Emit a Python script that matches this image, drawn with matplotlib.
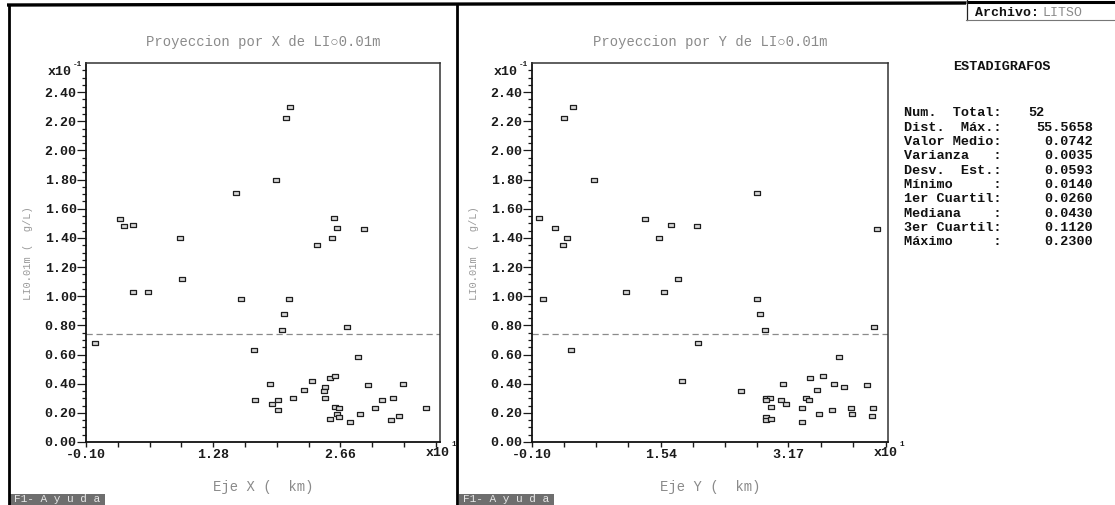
import matplotlib
matplotlib.use("Agg")
import matplotlib.pyplot as plt
import numpy as np
from matplotlib.path import Path
from matplotlib.lines import Line2D
from matplotlib.patches import Rectangle

MONO = ["Liberation Mono", "DejaVu Sans Mono"]

# ---- sample data: position (km) and LI 0.01m concentration (g/L) ----
proj_x_km = [2.69, 3.15, 4.13, 9.20, 9.44, 4.06, 5.72, 0.00,
             21.13, 20.69, 19.57, 15.24, 25.93, 26.19, 29.18, 25.71, 24.05,
             15.81, 21.02, 20.44, 20.22, 27.27, 17.19, 28.54,
             18.96, 23.48, 22.68, 25.50, 26.04, 24.92, 24.85, 29.55, 33.35,
             17.33, 19.79, 19.21, 21.48, 24.95, 19.82, 26.04, 26.47, 26.26,
             26.47, 25.50, 27.67, 28.69, 30.35, 31.14, 32.27, 32.05, 32.95, 35.88]
proj_x_val = [0.153, 0.148, 0.149, 0.140, 0.112, 0.103, 0.103, 0.068,
              0.230, 0.222, 0.180, 0.171, 0.154, 0.147, 0.146, 0.140, 0.135,
              0.098, 0.098, 0.088, 0.077, 0.079, 0.063, 0.058,
              0.040, 0.042, 0.036, 0.044, 0.045, 0.038, 0.035, 0.039, 0.040,
              0.029, 0.029, 0.026, 0.030, 0.030, 0.022, 0.024, 0.023, 0.019,
              0.017, 0.016, 0.014, 0.019, 0.023, 0.029, 0.030, 0.015, 0.018, 0.023]

proj_y_km = [-0.07, 1.93, 3.50, 2.99, 3.08, 4.26, 6.94, 13.39, 15.14, 16.71,
             17.64, 10.94, 15.82, 0.44, 4.01, 18.07, 27.70, 20.00, 42.99, 27.70,
             28.08, 28.77, 42.61, 20.19, 38.15,
             25.71, 34.45, 36.16, 31.01, 37.51, 38.79, 41.71, 35.34, 28.90, 29.32,
             28.90, 30.72, 31.40, 33.99, 34.37, 29.53, 33.48, 37.22, 39.73, 42.48,
             35.65, 39.85, 42.36, 28.85, 28.85, 29.45, 33.48]
proj_y_val = [0.154, 0.147, 0.140, 0.135, 0.222, 0.230, 0.180, 0.153, 0.140, 0.149,
              0.112, 0.103, 0.103, 0.098, 0.063, 0.042, 0.171, 0.148, 0.146, 0.098,
              0.088, 0.077, 0.079, 0.068, 0.058,
              0.035, 0.044, 0.045, 0.040, 0.040, 0.038, 0.039, 0.036, 0.030, 0.030,
              0.029, 0.029, 0.026, 0.030, 0.029, 0.024, 0.023, 0.022, 0.023, 0.023,
              0.019, 0.019, 0.018, 0.017, 0.015, 0.016, 0.014]

# axis multipliers shown as x10^n on the plots
KM_UNIT = 10.0        # x10^1 km
VAL_UNIT = 0.1        # x10^-1 g/L

x_tick_labels_left = ["-0.10", "1.28", "2.66"]
x_tick_labels_right = ["-0.10", "1.54", "3.17"]
y_tick_labels = ["0.00", "0.20", "0.40", "0.60", "0.80", "1.00", "1.20",
                 "1.40", "1.60", "1.80", "2.00", "2.20", "2.40"]

stat_labels = ["Num.  Total:", "Dist.  Máx.:", "Valor Medio:", "Varianza   :",
               "Desv.  Est.:", "Mínimo     :", "1er Cuartil:", "Mediana    :",
               "3er Cuartil:", "Máximo     :"]
stat_values = ["52", "55.5658", "0.0742", "0.0035", "0.0593", "0.0140",
               "0.0260", "0.0430", "0.1120", "0.2300"]
mean_value = float(stat_values[2])

W, H = 1115, 505
fig = plt.figure(figsize=(W / 100, H / 100), dpi=100)
fig.patch.set_facecolor("white")


def fx(px):
    return px / W


def fy(py):
    return 1 - py / H


def fline(x0, y0, x1, y1, **kw):
    fig.add_artist(Line2D([fx(x0), fx(x1)], [fy(y0), fy(y1)],
                          transform=fig.transFigure, **kw))


rect_marker = Path([(-1, -0.55), (1, -0.55), (1, 0.55), (-1, 0.55), (-1, -0.55)],
                   [Path.MOVETO, Path.LINETO, Path.LINETO, Path.LINETO, Path.CLOSEPOLY])


def scatter_panel(left_px, right_px, km, val, xlabels, xmax, title, xname):
    ax = fig.add_axes([fx(left_px), fy(442), fx(right_px) - fx(left_px), fy(63) - fy(442)])
    ax.set_facecolor("white")
    xs = np.asarray(km) / KM_UNIT
    ys = np.asarray(val) / VAL_UNIT
    ax.plot(xs, ys, linestyle="none", marker=rect_marker, markersize=4.4,
            markerfacecolor="#d8d8d8", markeredgecolor="#1e1e1e", markeredgewidth=0.9,
            zorder=3)
    ax.axhline(mean_value / VAL_UNIT, color="#8a8a8a", linewidth=0.9,
               dashes=(5, 3), zorder=2)

    x_major = [float(s) for s in xlabels]
    x0 = x_major[0]
    ax.set_xlim(x0, xmax)
    ax.set_ylim(0, 2.60)

    step = (x_major[1] - x_major[0]) / 4
    x_minor = [t for t in np.arange(x0, xmax, step)
               if min(abs(t - m) for m in x_major) > step / 3]
    ax.set_xticks(x_major)
    ax.set_xticklabels(xlabels)
    ax.set_xticks(x_minor, minor=True)

    y_major = [float(s) for s in y_tick_labels]
    ax.set_yticks(y_major)
    ax.set_yticklabels(y_tick_labels)
    ax.set_yticks(np.arange(0, 2.56, 0.05), minor=True)

    ax.tick_params(axis="y", which="major", direction="out", length=6.2, width=0.9,
                   pad=0.5, labelsize=9.5, colors="#1a1a1a")
    ax.tick_params(axis="y", which="minor", direction="out", length=3.2, width=0.9,
                   colors="#1a1a1a")
    ax.tick_params(axis="x", which="both", direction="out", length=3.5, width=1.0,
                   pad=1.5, labelsize=9.5, colors="#1a1a1a")
    for lab in ax.get_xticklabels() + ax.get_yticklabels():
        lab.set_fontfamily(MONO)
        lab.set_fontweight("bold")
    for side in ("left", "bottom"):
        ax.spines[side].set_linewidth(1.3)
        ax.spines[side].set_color("#111111")
    for side in ("top", "right"):
        ax.spines[side].set_linewidth(1.1)
        ax.spines[side].set_color("#333333")

    cx = (left_px + right_px) / 2
    fig.text(fx(cx), fy(42), title, ha="center", va="center", color="#8a8a8a",
             fontsize=10, family=MONO)
    fig.text(fx(cx), fy(487), xname, ha="center", va="center", color="#8a8a8a",
             fontsize=10, family=MONO)
    fig.text(fx(left_px - 58), fy(253), "LI0.01m (  g/L)", rotation=90,
             ha="center", va="center", color="#9a9a9a", fontsize=7.5, family=MONO)
    # unit multipliers
    fig.text(fx(left_px - 14), fy(72), "x10", ha="right", va="center",
             color="#1a1a1a", fontsize=9.5, family=MONO, fontweight="bold")
    fig.text(fx(left_px - 13.5), fy(65), "-1", ha="left", va="center",
             color="#1a1a1a", fontsize=5.5, family=MONO, fontweight="bold")
    fig.text(fx(right_px - 14), fy(453), "x10", ha="left", va="center",
             color="#1a1a1a", fontsize=9.5, family=MONO, fontweight="bold")
    fig.text(fx(right_px + 11), fy(445), "1", ha="left", va="center",
             color="#1a1a1a", fontsize=5.5, family=MONO, fontweight="bold")
    return ax


scatter_panel(86, 440, proj_x_km, proj_x_val, x_tick_labels_left, 3.74,
              "Proyeccion por X de LI○0.01m", "Eje X (  km)")
scatter_panel(532, 888, proj_y_km, proj_y_val, x_tick_labels_right, 4.44,
              "Proyeccion por Y de LI○0.01m", "Eje Y (  km)")

# statistics panel
fig.text(fx(1002), fy(67), "ESTADIGRAFOS", ha="center", va="center",
         color="#111111", fontsize=9.7, family=MONO, fontweight="bold")
for i, (lab, val) in enumerate(zip(stat_labels, stat_values)):
    yy = 113.5 + i * 14.3
    fig.text(fx(904), fy(yy), lab, ha="left", va="center", color="#111111",
             fontsize=9.7, family=MONO, fontweight="bold")
    if i == 0:
        fig.text(fx(1028), fy(yy), val, ha="left", va="center", color="#111111",
                 fontsize=9.7, family=MONO, fontweight="bold")
    else:
        fig.text(fx(1093), fy(yy), val, ha="right", va="center", color="#111111",
                 fontsize=9.7, family=MONO, fontweight="bold")

# window frame
fline(7, 5, 966, 3, color="black", linewidth=2.4, solid_capstyle="butt")
fline(966, 1.5, 1115, 1.5, color="black", linewidth=2.2, solid_capstyle="butt")
fline(8.5, 4, 8.5, 505, color="black", linewidth=2.0, solid_capstyle="butt")
fline(456.5, 4, 456.5, 505, color="black", linewidth=2.0, solid_capstyle="butt")

# file name box
fline(966.5, 0, 966.5, 19.5, color="#222222", linewidth=0.9)
fline(966, 19.5, 1115, 19.5, color="#777777", linewidth=0.8)
fig.text(fx(975), fy(13), "Archivo:", ha="left", va="center", color="#111111",
         fontsize=9.5, family=MONO, fontweight="bold")
fig.text(fx(1042), fy(13), "LITSO", ha="left", va="center", color="#8a8a8a",
         fontsize=9.5, family=MONO)

# help bars
for x0 in (10, 459):
    fig.add_artist(Rectangle((fx(x0), fy(505)), fx(95), 11 / H,
                             transform=fig.transFigure, facecolor="#6e6e6e",
                             edgecolor="none"))
    fig.text(fx(x0 + 4), fy(499.5), "F1- A y u d a", ha="left", va="center",
             color="#e6e6e6", fontsize=8, family=MONO)

fig.savefig("out.png", dpi=100, facecolor="white")
